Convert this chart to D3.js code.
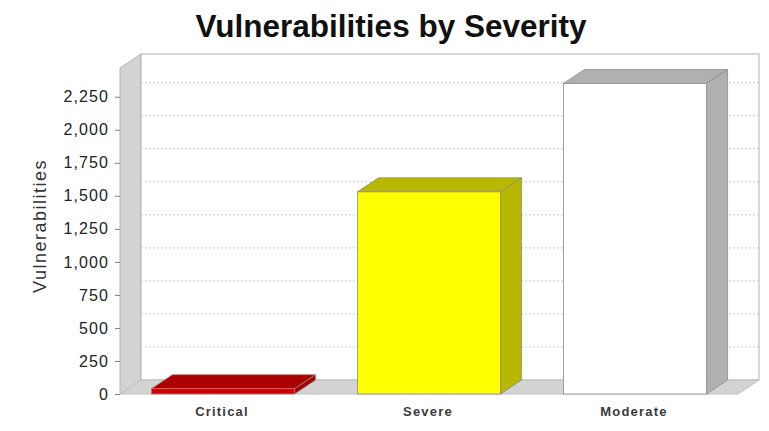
<!DOCTYPE html>
<html>
<head>
<meta charset="utf-8">
<script src="https://cdn.jsdelivr.net/npm/d3@7"></script>
<style>
  html, body { margin: 0; padding: 0; background: #fff; }
  svg { display: block; }
</style>
</head>
<body>
<svg id="chart" width="769" height="431"></svg>
<script>
// ---- data ----
const categories = ["Critical", "Severe", "Moderate"];
const values = [40, 1530, 2350];
const tickValues = [0, 250, 500, 750, 1000, 1250, 1500, 1750, 2000, 2250];
const frontColors = ["#cc0000", "#ffff00", "#ffffff"];
const shadeColors = ["#aa0000", "#b8b800", "#b0b0b0"];

const title = "Vulnerabilities by Severity";
const yLabel = "Vulnerabilities";

// ---- layout ----
const plotLeft = 120, plotRight = 738, plotBottom = 394, plotTop = 68;
const dx = 21, dy = 14;
const FONT = "'Liberation Sans', Arial, sans-serif";

const svg = d3.select("#chart");

const x = d3.scaleBand().domain(categories).range([plotLeft, plotRight]).padding(0);
const y = d3.scaleLinear().domain([0, d3.max(values) * 1.05]).range([plotBottom, plotTop]);
const barW = x.bandwidth() * 0.695;
const pts = a => a.map(p => p.join(",")).join(" ");

// side wall
svg.append("polygon")
  .attr("points", pts([[plotLeft, plotBottom], [plotLeft, plotTop], [plotLeft + dx, plotTop - dy], [plotLeft + dx, plotBottom - dy]]))
  .attr("fill", "#d3d3d3").attr("stroke", "#b8b8b8").attr("stroke-width", 1);

// back wall
svg.append("rect")
  .attr("x", plotLeft + dx).attr("y", plotTop - dy)
  .attr("width", plotRight - plotLeft).attr("height", plotBottom - plotTop)
  .attr("fill", "#ffffff").attr("stroke", "#b0b0b0").attr("stroke-width", 1);

// floor
svg.append("polygon")
  .attr("points", pts([[plotLeft, plotBottom], [plotLeft + dx, plotBottom - dy], [plotRight + dx, plotBottom - dy], [plotRight, plotBottom]]))
  .attr("fill", "#d3d3d3").attr("stroke", "#c0c0c0").attr("stroke-width", 1);

// gridlines on back wall
svg.append("g").selectAll("line")
  .data(tickValues.filter(v => v > 0))
  .join("line")
  .attr("x1", plotLeft + dx).attr("x2", plotRight + dx)
  .attr("y1", d => y(d) - dy).attr("y2", d => y(d) - dy)
  .attr("stroke", "#c8c8c8").attr("stroke-width", 1)
  .attr("stroke-dasharray", "2,2");

// y axis
const yAxis = d3.axisLeft(y).tickValues(tickValues).tickFormat(d3.format(",")).tickSize(5).tickPadding(6);
const gy = svg.append("g").attr("transform", `translate(${plotLeft},0)`).call(yAxis);
gy.select(".domain").remove();
gy.selectAll(".tick line").attr("stroke", "#808080");
gy.selectAll(".tick text")
  .attr("font-family", FONT)
  .attr("font-size", 16).attr("letter-spacing", 1.1).attr("fill", "#222");

// bars
const bars = svg.append("g").selectAll("g").data(categories).join("g");
bars.each(function (c, i) {
  const g = d3.select(this);
  const x0 = x(c) + (x.bandwidth() - barW) / 2;
  const x1 = x0 + barW;
  const yt = y(values[i]);
  const yb = y(0);
  g.append("polygon")
    .attr("points", pts([[x0, yt], [x0 + dx, yt - dy], [x1 + dx, yt - dy], [x1, yt]]))
    .attr("fill", shadeColors[i]).attr("stroke", "#8a8a8a").attr("stroke-width", 0.8);
  g.append("polygon")
    .attr("points", pts([[x1, yt], [x1 + dx, yt - dy], [x1 + dx, yb - dy], [x1, yb]]))
    .attr("fill", shadeColors[i]).attr("stroke", "#8a8a8a").attr("stroke-width", 0.8);
  g.append("rect")
    .attr("x", x0).attr("y", yt).attr("width", barW).attr("height", yb - yt)
    .attr("fill", frontColors[i]).attr("stroke", i === 0 ? "#e06060" : "#8a8a8a").attr("stroke-width", 0.8);
});

// category labels
svg.append("g").selectAll("text").data(categories).join("text")
  .attr("x", d => x(d) + x.bandwidth() / 2 - 1)
  .attr("y", 416)
  .attr("text-anchor", "middle")
  .attr("font-family", FONT)
  .attr("font-size", 13).attr("font-weight", "bold").attr("letter-spacing", 1.2).attr("fill", "#3a3a3a")
  .text(d => d);

// y label
svg.append("text")
  .attr("transform", `translate(46,226) rotate(-90)`)
  .attr("text-anchor", "middle")
  .attr("font-family", FONT)
  .attr("font-size", 18).attr("letter-spacing", 1.5).attr("fill", "#333")
  .text(yLabel);

// title
svg.append("text")
  .attr("x", 391).attr("y", 37)
  .attr("text-anchor", "middle")
  .attr("font-family", FONT)
  .attr("font-size", 31.5).attr("font-weight", "bold").attr("fill", "#111")
  .text(title);
</script>
</body>
</html>
